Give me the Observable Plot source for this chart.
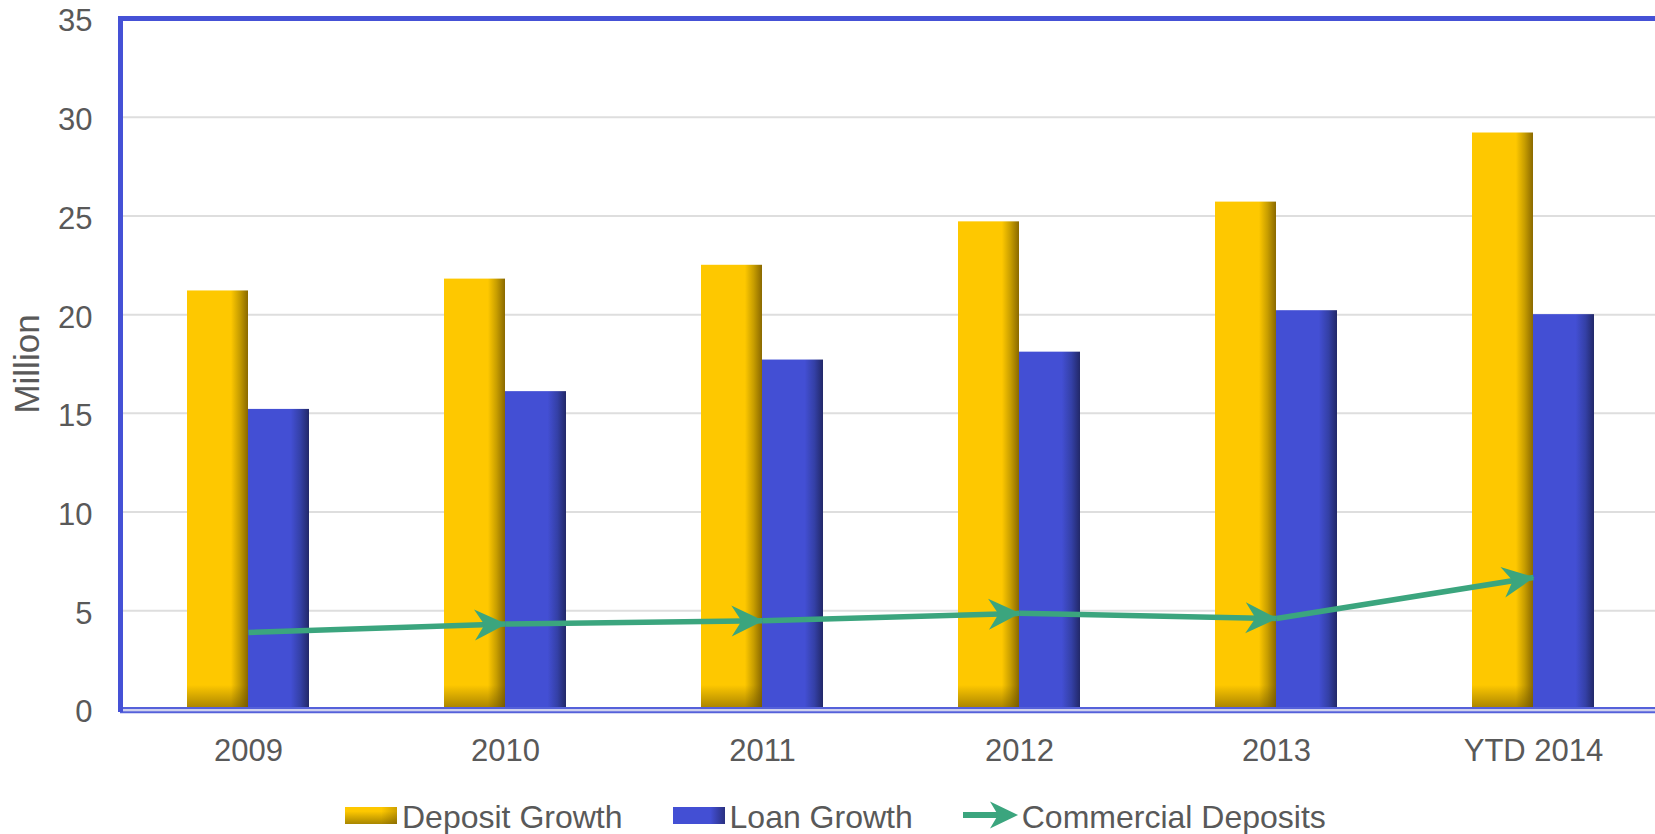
<!DOCTYPE html>
<html>
<head>
<meta charset="utf-8">
<script src="https://cdn.jsdelivr.net/npm/d3@7"></script>
<script src="https://cdn.jsdelivr.net/npm/@observablehq/plot@0.6"></script>
<style>
  html, body { margin: 0; padding: 0; background: #fff; overflow: hidden; }
  body { font-family: "Liberation Sans", Arial, Helvetica, sans-serif; }
  #chart { position: relative; width: 1655px; height: 834px; }
  #legend { position: absolute; left: 345px; top: 800px; height: 34px; display: flex; align-items: center;
            font-size: 32px; line-height: 34px; color: #595959; white-space: nowrap; }
  #legend .sw { display: inline-block; width: 52px; height: 17px; margin-right: 5px; position: relative; top: -2px; }
  #legend .sw-dep { background: linear-gradient(to right, rgba(0,0,0,0) 70%, rgba(60,40,0,0.25) 100%),
                                linear-gradient(to bottom, #fec800 25%, #a88600 100%); }
  #legend .sw-loan { background: linear-gradient(to right, #434fd4 72%, #2a3080 100%); }
  #legend .arr { margin-right: 3px; position: relative; top: -2px; }
  #legend .lab { margin-right: 50px; }
  #legend .lab:last-child { margin-right: 0; }
</style>
</head>
<body>
<div id="chart"></div>
<script>
// ---- data ----
const years = ["2009", "2010", "2011", "2012", "2013", "YTD 2014"];
const depositGrowth = [21.2, 21.8, 22.5, 24.7, 25.7, 29.2];
const loanGrowth = [15.2, 16.1, 17.7, 18.1, 20.2, 20.0];
const commercialDeposits = [3.9, 4.33, 4.5, 4.87, 4.61, 6.69];
const yTicks = [0, 5, 10, 15, 20, 25, 30, 35];
const seriesNames = ["Deposit Growth", "Loan Growth", "Commercial Deposits"];
const yLabel = "Million";

// ---- derived tables ----
const bars = years.map((year, i) => ({year, deposit: depositGrowth[i], loan: loanGrowth[i]}));
const segments = years.slice(1).map((year, i) => ({
  x1: years[i], y1: commercialDeposits[i], x2: year, y2: commercialDeposits[i + 1]
}));

const NS = "http://www.w3.org/2000/svg";
const lineColor = "#3ba57e";
const borderColor = "#4551d6";

function arrowMarker(color, context) {
  const doc = (context && context.document) || document;
  const m = doc.createElementNS(NS, "marker");
  m.setAttribute("viewBox", "-33 -17 35 34");
  m.setAttribute("markerWidth", 35);
  m.setAttribute("markerHeight", 34);
  m.setAttribute("refX", 0);
  m.setAttribute("refY", 0);
  m.setAttribute("orient", "auto");
  m.setAttribute("markerUnits", "userSpaceOnUse");
  const p = doc.createElementNS(NS, "path");
  p.setAttribute("d", "M1,0L-31,-15.5L-21,0L-31,15.5Z");
  p.setAttribute("fill", lineColor);
  p.setAttribute("stroke", "none");
  m.appendChild(p);
  return m;
}

const plot = Plot.plot({
  width: 1655,
  height: 785,
  marginLeft: 120,
  marginRight: 0,
  marginTop: 18,
  marginBottom: 76,
  style: {fontFamily: "'Liberation Sans', Arial, Helvetica, sans-serif", fontSize: "31px", color: "#595959", background: "#fff", overflow: "visible"},
  x: {type: "band", domain: years, range: [120, 1662], paddingInner: 0.525, paddingOuter: 0.2625, label: null},
  y: {domain: [0, 35], label: null},
  marks: [
    Plot.gridY(yTicks.slice(1, -1), {stroke: "#dedede", strokeWidth: 2, strokeOpacity: 1}),
    Plot.barY(bars, {x: "year", y: "deposit", fill: "url(#gradYellow)", insetRight: 61}),
    Plot.barY(bars, {x: "year", y: "deposit", fill: "url(#gradYellowBottom)", insetRight: 61}),
    Plot.barY(bars, {x: "year", y: "loan", fill: "url(#gradBlue)", insetLeft: 61}),
    Plot.ruleY([0], {stroke: "#cfd1ee", strokeWidth: 3, dy: 0.5}),
    Plot.ruleY([0], {stroke: "#5561da", strokeWidth: 2, dy: -1.5}),
    Plot.ruleY([0], {stroke: "#5561da", strokeWidth: 2, dy: 2.7}),
    Plot.ruleY([35], {stroke: borderColor, strokeWidth: 5}),
    Plot.frame({anchor: "left", stroke: borderColor, strokeWidth: 5}),
    Plot.axisY({ticks: yTicks, tickSize: 0, tickPadding: 28, fontSize: 31, dy: 3, label: null}),
    Plot.axisX({tickSize: 0, tickPadding: 29, fontSize: 31, label: null}),
    Plot.text([yLabel], {text: d => d, frameAnchor: "left", textAnchor: "middle", lineAnchor: "middle", rotate: -90, dx: -93, fontSize: 35, fill: "#595959"}),
    Plot.link(segments, {x1: "x1", y1: "y1", x2: "x2", y2: "y2", stroke: lineColor, strokeWidth: 5.5, markerEnd: arrowMarker})
  ]
});

// gradients for the bar shading
const y0 = plot.scale("y").apply(0);
const defs = document.createElementNS(NS, "defs");
function grad(id, stops, attrs) {
  const g = document.createElementNS(NS, "linearGradient");
  g.setAttribute("id", id);
  for (const [k, v] of Object.entries(attrs)) g.setAttribute(k, v);
  for (const [off, col, op] of stops) {
    const s = document.createElementNS(NS, "stop");
    s.setAttribute("offset", off);
    s.setAttribute("stop-color", col);
    s.setAttribute("stop-opacity", op == null ? 1 : op);
    g.appendChild(s);
  }
  defs.appendChild(g);
}
grad("gradYellow", [[0, "#fec800"], [0.72, "#fec800"], [0.86, "#c89e00"], [1, "#8a6900"]], {x1: 0, y1: 0, x2: 1, y2: 0});
grad("gradBlue", [[0, "#434fd4"], [0.7, "#434fd4"], [0.86, "#3440a6"], [1, "#222868"]], {x1: 0, y1: 0, x2: 1, y2: 0});
grad("gradYellowBottom", [[0, "#6b5200", 0], [1, "#6b5200", 0.6]], {gradientUnits: "userSpaceOnUse", x1: 0, y1: y0 - 24, x2: 0, y2: y0});
plot.insertBefore(defs, plot.firstChild);

const chart = document.getElementById("chart");
chart.appendChild(plot);

// legend
const legend = document.createElement("div");
legend.id = "legend";
const swDep = document.createElement("span"); swDep.className = "sw sw-dep";
const labDep = document.createElement("span"); labDep.className = "lab"; labDep.textContent = seriesNames[0];
const swLoan = document.createElement("span"); swLoan.className = "sw sw-loan";
const labLoan = document.createElement("span"); labLoan.className = "lab"; labLoan.textContent = seriesNames[1];
const arr = document.createElementNS(NS, "svg");
arr.setAttribute("class", "arr"); arr.setAttribute("width", 56); arr.setAttribute("height", 30);
arr.innerHTML = `<line x1="0" y1="15" x2="40" y2="15" stroke="${lineColor}" stroke-width="6"/><path d="M55,15L27,1.5L35,15L27,28.5Z" fill="${lineColor}"/>`;
const labCom = document.createElement("span"); labCom.className = "lab"; labCom.textContent = seriesNames[2];
legend.append(swDep, labDep, swLoan, labLoan, arr, labCom);
chart.appendChild(legend);
</script>
</body>
</html>
